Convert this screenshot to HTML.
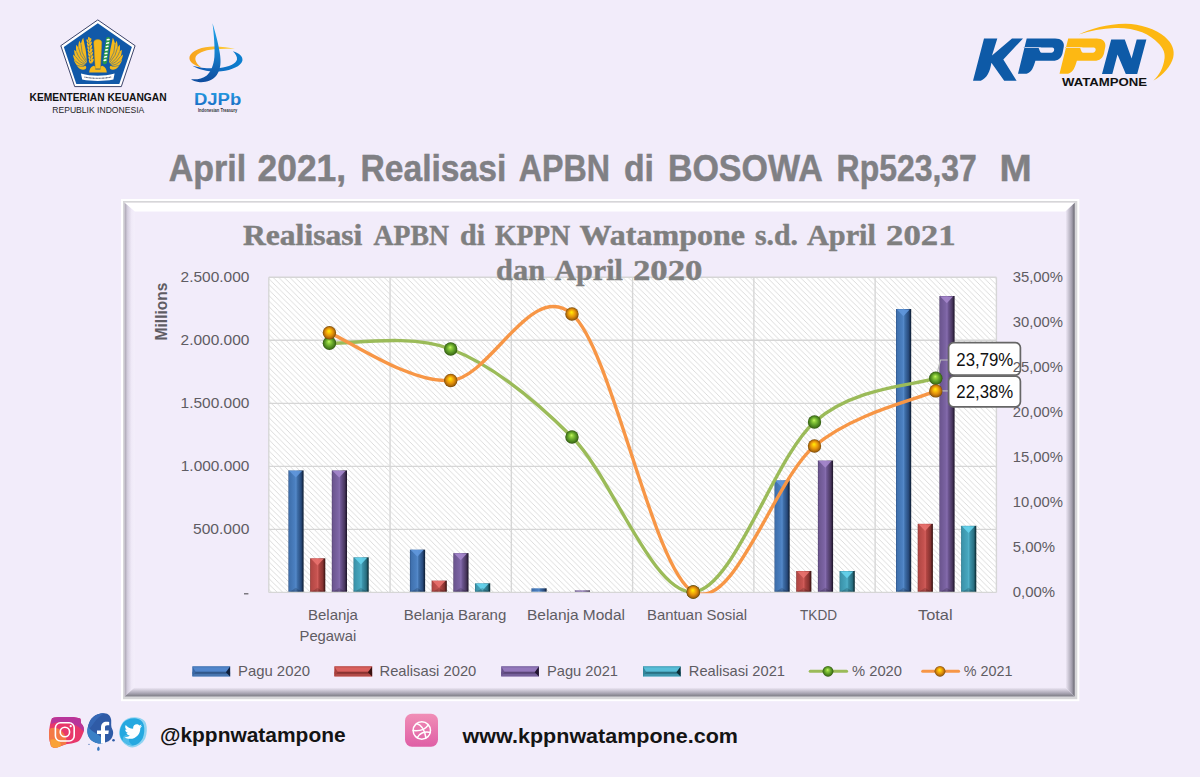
<!DOCTYPE html>
<html lang="id">
<head>
<meta charset="utf-8">
<title>Realisasi APBN di BOSOWA - KPPN Watampone</title>
<style>
html,body{margin:0;padding:0;background:#f2ecfa;}
body{width:1200px;height:777px;overflow:hidden;font-family:"Liberation Sans",sans-serif;}
svg{display:block;}
text{white-space:pre;}
</style>
</head>
<body>
<svg width="1200" height="777" viewBox="0 0 1200 777">

<defs>
<pattern id="hatch" width="5.55" height="5.55" patternUnits="userSpaceOnUse" patternTransform="translate(1.2,0)">
<rect width="5.55" height="5.55" fill="#ffffff"/>
<path d="M-1,-1 L6.55,6.55 M-1,4.55 L1,6.55 M4.55,-1 L6.55,1" stroke="#d6d6d6" stroke-width="0.85"/>
</pattern>
<linearGradient id="gB" x1="0" x2="1" y1="0" y2="0"><stop offset="0" stop-color="#2c5186"/><stop offset="0.07" stop-color="#3f70ad"/><stop offset="0.42" stop-color="#4b80c1"/><stop offset="0.5" stop-color="#5589c9"/><stop offset="0.58" stop-color="#3f70ab"/><stop offset="0.84" stop-color="#27497a"/><stop offset="0.94" stop-color="#152a48"/><stop offset="1" stop-color="#0e1d33"/></linearGradient>
<linearGradient id="gR" x1="0" x2="1" y1="0" y2="0"><stop offset="0" stop-color="#8a3633"/><stop offset="0.07" stop-color="#b24744"/><stop offset="0.42" stop-color="#c65350"/><stop offset="0.5" stop-color="#d25e5b"/><stop offset="0.58" stop-color="#b04542"/><stop offset="0.84" stop-color="#853230"/><stop offset="0.94" stop-color="#4f1c1b"/><stop offset="1" stop-color="#381312"/></linearGradient>
<linearGradient id="gP" x1="0" x2="1" y1="0" y2="0"><stop offset="0" stop-color="#503e6b"/><stop offset="0.07" stop-color="#6c5690"/><stop offset="0.42" stop-color="#7c64a4"/><stop offset="0.5" stop-color="#866dae"/><stop offset="0.58" stop-color="#6e5793"/><stop offset="0.84" stop-color="#49375f"/><stop offset="0.94" stop-color="#2b1f3b"/><stop offset="1" stop-color="#1d1529"/></linearGradient>
<linearGradient id="gT" x1="0" x2="1" y1="0" y2="0"><stop offset="0" stop-color="#2a7488"/><stop offset="0.07" stop-color="#3b93aa"/><stop offset="0.42" stop-color="#47a6be"/><stop offset="0.5" stop-color="#52b2ca"/><stop offset="0.58" stop-color="#3c94ab"/><stop offset="0.84" stop-color="#286e80"/><stop offset="0.94" stop-color="#123c47"/><stop offset="1" stop-color="#0b2a32"/></linearGradient>
<radialGradient id="mG" cx="0.5" cy="0.5" r="0.5" fx="0.46" fy="0.36"><stop offset="0" stop-color="#c9f76c"/><stop offset="0.22" stop-color="#93d33e"/><stop offset="0.58" stop-color="#609f29"/><stop offset="0.85" stop-color="#437619"/><stop offset="1" stop-color="#2f5511"/></radialGradient>
<radialGradient id="mO" cx="0.5" cy="0.5" r="0.5" fx="0.46" fy="0.36"><stop offset="0" stop-color="#fff400"/><stop offset="0.22" stop-color="#fcc80a"/><stop offset="0.58" stop-color="#e2900a"/><stop offset="0.85" stop-color="#aa680a"/><stop offset="1" stop-color="#744606"/></radialGradient>
<linearGradient id="bvL" x1="0" x2="1" y1="0" y2="0"><stop offset="0" stop-color="#a8a3b0"/><stop offset="0.3" stop-color="#d6d0e0"/><stop offset="0.7" stop-color="#f0eaf8"/><stop offset="1" stop-color="#f4effb"/></linearGradient>
<linearGradient id="bvR" x1="1" x2="0" y1="0" y2="0"><stop offset="0" stop-color="#66666e"/><stop offset="0.3" stop-color="#a19dab"/><stop offset="1" stop-color="#f2ecfa"/></linearGradient>
<linearGradient id="bvB" x1="0" x2="0" y1="1" y2="0"><stop offset="0" stop-color="#7c7c84"/><stop offset="0.35" stop-color="#a9a5b3"/><stop offset="1" stop-color="#f2ecfa"/></linearGradient>
<linearGradient id="djb" x1="0" x2="0" y1="0" y2="1"><stop offset="0" stop-color="#22a4e8"/><stop offset="0.45" stop-color="#1585d2"/><stop offset="1" stop-color="#0f4c9e"/></linearGradient>
<linearGradient id="dja" x1="1" x2="0" y1="0" y2="0"><stop offset="0" stop-color="#0c80d0"/><stop offset="1" stop-color="#1258b0"/></linearGradient>
<linearGradient id="djo" x1="0" x2="1" y1="0" y2="0"><stop offset="0" stop-color="#f7a21b"/><stop offset="1" stop-color="#ffd23c"/></linearGradient>
<linearGradient id="djt" x1="0" x2="0" y1="0" y2="1"><stop offset="0" stop-color="#27a0e4"/><stop offset="1" stop-color="#1668c1"/></linearGradient>
<linearGradient id="igG" x1="0" x2="1" y1="1" y2="0"><stop offset="0" stop-color="#f9a23a"/><stop offset="0.45" stop-color="#e8336f"/><stop offset="1" stop-color="#b32fa8"/></linearGradient>
<linearGradient id="drb" x1="0" x2="0" y1="0" y2="1"><stop offset="0" stop-color="#f08eb6"/><stop offset="1" stop-color="#df5ea5"/></linearGradient>
<clipPath id="plotclip"><rect x="268.8" y="237.3" width="727.5999999999999" height="355.9"/></clipPath>
</defs>

<rect width="1200" height="777" fill="#f2ecfa"/>
<rect x="121" y="199" width="958.3" height="502.20000000000005" fill="#ffffff"/>
<rect x="123" y="201" width="954.3" height="498.20000000000005" fill="#d6d6d8"/>
<rect x="124.6" y="202.8" width="950.1" height="493.6000000000001" fill="#f2ecfa"/>
<polygon points="124.6,202.8 1074.7,202.8 1065.5,211.60000000000002 134.6,211.60000000000002" fill="#ffffff"/>
<polygon points="124.6,202.8 134.6,211.60000000000002 134.6,687.4000000000001 124.6,696.4000000000001" fill="url(#bvL)"/>
<polygon points="1074.7,202.8 1065.5,211.60000000000002 1065.5,687.4000000000001 1074.7,696.4000000000001" fill="url(#bvR)"/>
<polygon points="124.6,696.4000000000001 134.6,687.4000000000001 1065.5,687.4000000000001 1074.7,696.4000000000001" fill="url(#bvB)"/>
<text x="168.75" y="180.8" font-family="Liberation Sans, sans-serif" font-size="37.6" font-weight="bold" fill="#808084" textLength="77.43" lengthAdjust="spacingAndGlyphs" stroke="#808084" stroke-width="0.5">April</text>
<text x="257.50" y="180.8" font-family="Liberation Sans, sans-serif" font-size="37.6" font-weight="bold" fill="#808084" textLength="88.66" lengthAdjust="spacingAndGlyphs" stroke="#808084" stroke-width="0.5">2021,</text>
<text x="360.50" y="180.8" font-family="Liberation Sans, sans-serif" font-size="37.6" font-weight="bold" fill="#808084" textLength="145.80" lengthAdjust="spacingAndGlyphs" stroke="#808084" stroke-width="0.5">Realisasi</text>
<text x="518.75" y="180.8" font-family="Liberation Sans, sans-serif" font-size="37.6" font-weight="bold" fill="#808084" textLength="91.20" lengthAdjust="spacingAndGlyphs" stroke="#808084" stroke-width="0.5">APBN</text>
<text x="623.90" y="180.8" font-family="Liberation Sans, sans-serif" font-size="37.6" font-weight="bold" fill="#808084" textLength="30.06" lengthAdjust="spacingAndGlyphs" stroke="#808084" stroke-width="0.5">di</text>
<text x="667.90" y="180.8" font-family="Liberation Sans, sans-serif" font-size="37.6" font-weight="bold" fill="#808084" textLength="154.82" lengthAdjust="spacingAndGlyphs" stroke="#808084" stroke-width="0.5">BOSOWA</text>
<text x="836.60" y="180.8" font-family="Liberation Sans, sans-serif" font-size="37.6" font-weight="bold" fill="#808084" textLength="140.15" lengthAdjust="spacingAndGlyphs" stroke="#808084" stroke-width="0.5">Rp523,37</text>
<text x="999.40" y="180.8" font-family="Liberation Sans, sans-serif" font-size="37.6" font-weight="bold" fill="#808084" textLength="32.22" lengthAdjust="spacingAndGlyphs" stroke="#808084" stroke-width="0.5">M</text>
<rect x="268.8" y="277.3" width="727.5999999999999" height="315.09999999999997" fill="url(#hatch)"/>
<line x1="268.8" x2="996.4" y1="277.30" y2="277.30" stroke="#d6d6d6" stroke-width="1.4"/>
<line x1="268.8" x2="996.4" y1="340.32" y2="340.32" stroke="#d6d6d6" stroke-width="1.4"/>
<line x1="268.8" x2="996.4" y1="403.34" y2="403.34" stroke="#d6d6d6" stroke-width="1.4"/>
<line x1="268.8" x2="996.4" y1="466.36" y2="466.36" stroke="#d6d6d6" stroke-width="1.4"/>
<line x1="268.8" x2="996.4" y1="529.38" y2="529.38" stroke="#d6d6d6" stroke-width="1.4"/>
<line x1="268.8" x2="996.4" y1="592.40" y2="592.40" stroke="#d6d6d6" stroke-width="1.4"/>
<line x1="268.80" x2="268.80" y1="277.3" y2="592.4" stroke="#d6d6d6" stroke-width="1.4"/>
<line x1="390.07" x2="390.07" y1="277.3" y2="592.4" stroke="#d6d6d6" stroke-width="1.4"/>
<line x1="511.33" x2="511.33" y1="277.3" y2="592.4" stroke="#d6d6d6" stroke-width="1.4"/>
<line x1="632.60" x2="632.60" y1="277.3" y2="592.4" stroke="#d6d6d6" stroke-width="1.4"/>
<line x1="753.87" x2="753.87" y1="277.3" y2="592.4" stroke="#d6d6d6" stroke-width="1.4"/>
<line x1="875.13" x2="875.13" y1="277.3" y2="592.4" stroke="#d6d6d6" stroke-width="1.4"/>
<line x1="996.40" x2="996.40" y1="277.3" y2="592.4" stroke="#d6d6d6" stroke-width="1.4"/>
<rect x="288.40" y="470.40" width="15.2" height="121.30" fill="url(#gB)"/>
<polygon points="289.30,470.90 302.00,470.90 295.80,477.60" fill="#6097dc" opacity="0.9"/>
<polygon points="289.90,591.70 301.60,591.70 295.80,587.70" fill="#000000" opacity="0.16"/>
<rect x="288.40" y="590.70" width="15.2" height="1.0" fill="#000000" opacity="0.18"/>
<rect x="310.10" y="558.30" width="15.2" height="33.40" fill="url(#gR)"/>
<polygon points="311.00,558.80 323.70,558.80 317.50,565.50" fill="#e8716e" opacity="0.9"/>
<polygon points="311.60,591.70 323.30,591.70 317.50,587.70" fill="#000000" opacity="0.16"/>
<rect x="310.10" y="590.70" width="15.2" height="1.0" fill="#000000" opacity="0.18"/>
<rect x="331.80" y="470.40" width="15.2" height="121.30" fill="url(#gP)"/>
<polygon points="332.70,470.90 345.40,470.90 339.20,477.60" fill="#a587cc" opacity="0.9"/>
<polygon points="333.30,591.70 345.00,591.70 339.20,587.70" fill="#000000" opacity="0.16"/>
<rect x="331.80" y="590.70" width="15.2" height="1.0" fill="#000000" opacity="0.18"/>
<rect x="353.50" y="557.30" width="15.2" height="34.40" fill="url(#gT)"/>
<polygon points="354.40,557.80 367.10,557.80 360.90,564.50" fill="#66d3ec" opacity="0.9"/>
<polygon points="355.00,591.70 366.70,591.70 360.90,587.70" fill="#000000" opacity="0.16"/>
<rect x="353.50" y="590.70" width="15.2" height="1.0" fill="#000000" opacity="0.18"/>
<rect x="409.92" y="549.60" width="15.2" height="42.10" fill="url(#gB)"/>
<polygon points="410.82,550.10 423.52,550.10 417.32,556.80" fill="#6097dc" opacity="0.9"/>
<polygon points="411.42,591.70 423.12,591.70 417.32,587.70" fill="#000000" opacity="0.16"/>
<rect x="409.92" y="590.70" width="15.2" height="1.0" fill="#000000" opacity="0.18"/>
<rect x="431.62" y="580.60" width="15.2" height="11.10" fill="url(#gR)"/>
<polygon points="432.52,581.10 445.22,581.10 439.02,587.80" fill="#e8716e" opacity="0.9"/>
<polygon points="433.12,591.70 444.82,591.70 439.02,587.70" fill="#000000" opacity="0.16"/>
<rect x="431.62" y="590.70" width="15.2" height="1.0" fill="#000000" opacity="0.18"/>
<rect x="453.32" y="553.10" width="15.2" height="38.60" fill="url(#gP)"/>
<polygon points="454.22,553.60 466.92,553.60 460.72,560.30" fill="#a587cc" opacity="0.9"/>
<polygon points="454.82,591.70 466.52,591.70 460.72,587.70" fill="#000000" opacity="0.16"/>
<rect x="453.32" y="590.70" width="15.2" height="1.0" fill="#000000" opacity="0.18"/>
<rect x="475.02" y="583.30" width="15.2" height="8.40" fill="url(#gT)"/>
<polygon points="475.92,583.80 488.62,583.80 482.42,590.50" fill="#66d3ec" opacity="0.9"/>
<polygon points="476.52,591.70 488.22,591.70 482.42,587.70" fill="#000000" opacity="0.16"/>
<rect x="475.02" y="590.70" width="15.2" height="1.0" fill="#000000" opacity="0.18"/>
<rect x="531.44" y="588.30" width="15.2" height="3.40" fill="url(#gB)"/>
<rect x="574.84" y="590.40" width="15.2" height="1.30" fill="url(#gP)"/>
<rect x="774.48" y="480.30" width="15.2" height="111.40" fill="url(#gB)"/>
<polygon points="775.38,480.80 788.08,480.80 781.88,487.50" fill="#6097dc" opacity="0.9"/>
<polygon points="775.98,591.70 787.68,591.70 781.88,587.70" fill="#000000" opacity="0.16"/>
<rect x="774.48" y="590.70" width="15.2" height="1.0" fill="#000000" opacity="0.18"/>
<rect x="796.18" y="571.00" width="15.2" height="20.70" fill="url(#gR)"/>
<polygon points="797.08,571.50 809.78,571.50 803.58,578.20" fill="#e8716e" opacity="0.9"/>
<polygon points="797.68,591.70 809.38,591.70 803.58,587.70" fill="#000000" opacity="0.16"/>
<rect x="796.18" y="590.70" width="15.2" height="1.0" fill="#000000" opacity="0.18"/>
<rect x="817.88" y="460.50" width="15.2" height="131.20" fill="url(#gP)"/>
<polygon points="818.78,461.00 831.48,461.00 825.28,467.70" fill="#a587cc" opacity="0.9"/>
<polygon points="819.38,591.70 831.08,591.70 825.28,587.70" fill="#000000" opacity="0.16"/>
<rect x="817.88" y="590.70" width="15.2" height="1.0" fill="#000000" opacity="0.18"/>
<rect x="839.58" y="571.00" width="15.2" height="20.70" fill="url(#gT)"/>
<polygon points="840.48,571.50 853.18,571.50 846.98,578.20" fill="#66d3ec" opacity="0.9"/>
<polygon points="841.08,591.70 852.78,591.70 846.98,587.70" fill="#000000" opacity="0.16"/>
<rect x="839.58" y="590.70" width="15.2" height="1.0" fill="#000000" opacity="0.18"/>
<rect x="896.00" y="309.00" width="15.2" height="282.70" fill="url(#gB)"/>
<polygon points="896.90,309.50 909.60,309.50 903.40,316.20" fill="#6097dc" opacity="0.9"/>
<polygon points="897.50,591.70 909.20,591.70 903.40,587.70" fill="#000000" opacity="0.16"/>
<rect x="896.00" y="590.70" width="15.2" height="1.0" fill="#000000" opacity="0.18"/>
<rect x="917.70" y="523.80" width="15.2" height="67.90" fill="url(#gR)"/>
<polygon points="918.60,524.30 931.30,524.30 925.10,531.00" fill="#e8716e" opacity="0.9"/>
<polygon points="919.20,591.70 930.90,591.70 925.10,587.70" fill="#000000" opacity="0.16"/>
<rect x="917.70" y="590.70" width="15.2" height="1.0" fill="#000000" opacity="0.18"/>
<rect x="939.40" y="296.00" width="15.2" height="295.70" fill="url(#gP)"/>
<polygon points="940.30,296.50 953.00,296.50 946.80,303.20" fill="#a587cc" opacity="0.9"/>
<polygon points="940.90,591.70 952.60,591.70 946.80,587.70" fill="#000000" opacity="0.16"/>
<rect x="939.40" y="590.70" width="15.2" height="1.0" fill="#000000" opacity="0.18"/>
<rect x="961.10" y="525.80" width="15.2" height="65.90" fill="url(#gT)"/>
<polygon points="962.00,526.30 974.70,526.30 968.50,533.00" fill="#66d3ec" opacity="0.9"/>
<polygon points="962.60,591.70 974.30,591.70 968.50,587.70" fill="#000000" opacity="0.16"/>
<rect x="961.10" y="590.70" width="15.2" height="1.0" fill="#000000" opacity="0.18"/>
<g clip-path="url(#plotclip)" fill="none" stroke-width="3.4" stroke-linecap="round">
<path d="M329.43,343.30 C349.64,344.25 410.28,333.38 450.70,349.00 C491.12,364.62 531.54,396.50 571.97,437.00 C612.39,477.50 652.81,594.50 693.23,592.00 C733.66,589.50 774.08,457.63 814.50,422.00 C854.92,386.37 915.56,385.52 935.77,378.22" stroke="#9bbb59"/>
<path d="M329.43,332.80 C349.64,340.75 410.28,383.63 450.70,380.50 C491.12,377.37 531.54,278.75 571.97,314.00 C612.39,349.25 652.81,570.00 693.23,592.00 C733.66,614.00 774.08,479.51 814.50,446.00 C854.92,412.49 915.56,400.10 935.77,390.92" stroke="#f79646"/>
</g>
<text x="243.00" y="244.7" font-family="Liberation Serif, serif" font-size="29.6" font-weight="bold" fill="#7f7f7f" textLength="119.33" lengthAdjust="spacingAndGlyphs" stroke="#7f7f7f" stroke-width="0.45">Realisasi</text>
<text x="373.60" y="244.7" font-family="Liberation Serif, serif" font-size="29.6" font-weight="bold" fill="#7f7f7f" textLength="75.46" lengthAdjust="spacingAndGlyphs" stroke="#7f7f7f" stroke-width="0.45">APBN</text>
<text x="460.00" y="244.7" font-family="Liberation Serif, serif" font-size="29.6" font-weight="bold" fill="#7f7f7f" textLength="24.97" lengthAdjust="spacingAndGlyphs" stroke="#7f7f7f" stroke-width="0.45">di</text>
<text x="495.00" y="244.7" font-family="Liberation Serif, serif" font-size="29.6" font-weight="bold" fill="#7f7f7f" textLength="75.05" lengthAdjust="spacingAndGlyphs" stroke="#7f7f7f" stroke-width="0.45">KPPN</text>
<text x="579.60" y="244.7" font-family="Liberation Serif, serif" font-size="29.6" font-weight="bold" fill="#7f7f7f" textLength="165.47" lengthAdjust="spacingAndGlyphs" stroke="#7f7f7f" stroke-width="0.45">Watampone</text>
<text x="755.00" y="244.7" font-family="Liberation Serif, serif" font-size="29.6" font-weight="bold" fill="#7f7f7f" textLength="43.01" lengthAdjust="spacingAndGlyphs" stroke="#7f7f7f" stroke-width="0.45">s.d.</text>
<text x="807.00" y="244.7" font-family="Liberation Serif, serif" font-size="29.6" font-weight="bold" fill="#7f7f7f" textLength="68.93" lengthAdjust="spacingAndGlyphs" stroke="#7f7f7f" stroke-width="0.45">April</text>
<text x="886.00" y="244.7" font-family="Liberation Serif, serif" font-size="29.6" font-weight="bold" fill="#7f7f7f" textLength="69.50" lengthAdjust="spacingAndGlyphs" stroke="#7f7f7f" stroke-width="0.45">2021</text>
<text x="496.00" y="280.2" font-family="Liberation Serif, serif" font-size="29.6" font-weight="bold" fill="#7f7f7f" textLength="49.07" lengthAdjust="spacingAndGlyphs" stroke="#7f7f7f" stroke-width="0.45">dan</text>
<text x="554.40" y="280.2" font-family="Liberation Serif, serif" font-size="29.6" font-weight="bold" fill="#7f7f7f" textLength="68.53" lengthAdjust="spacingAndGlyphs" stroke="#7f7f7f" stroke-width="0.45">April</text>
<text x="633.00" y="280.2" font-family="Liberation Serif, serif" font-size="29.6" font-weight="bold" fill="#7f7f7f" textLength="69.40" lengthAdjust="spacingAndGlyphs" stroke="#7f7f7f" stroke-width="0.45">2020</text>
<polyline points="935.8,378.2 940.5,360 948.5,360" fill="none" stroke="#bdbdbd" stroke-width="1.2"/>
<line x1="935.8" y1="390.9" x2="948.5" y2="390.9" stroke="#bdbdbd" stroke-width="1.2"/>
<circle cx="329.43" cy="343.30" r="6.7" fill="url(#mG)"/>
<circle cx="450.70" cy="349.00" r="6.7" fill="url(#mG)"/>
<circle cx="571.97" cy="437.00" r="6.7" fill="url(#mG)"/>
<circle cx="693.23" cy="592.00" r="6.7" fill="url(#mG)"/>
<circle cx="814.50" cy="422.00" r="6.7" fill="url(#mG)"/>
<circle cx="935.77" cy="378.22" r="6.7" fill="url(#mG)"/>
<circle cx="329.43" cy="332.80" r="6.7" fill="url(#mO)"/>
<circle cx="450.70" cy="380.50" r="6.7" fill="url(#mO)"/>
<circle cx="571.97" cy="314.00" r="6.7" fill="url(#mO)"/>
<circle cx="693.23" cy="592.00" r="6.7" fill="url(#mO)"/>
<circle cx="814.50" cy="446.00" r="6.7" fill="url(#mO)"/>
<circle cx="935.77" cy="390.92" r="6.7" fill="url(#mO)"/>
<rect x="948.6" y="342.6" width="71.8" height="32.4" rx="5" ry="5" fill="#ffffff" stroke="#666666" stroke-width="1.7"/>
<rect x="948.6" y="376.2" width="71.8" height="30.6" rx="5" ry="5" fill="#ffffff" stroke="#666666" stroke-width="1.7"/>
<text x="956.30" y="365.6" font-family="Liberation Sans, sans-serif" font-size="18.8" fill="#111111" textLength="56.93" lengthAdjust="spacingAndGlyphs">23,79%</text>
<text x="956.30" y="397.8" font-family="Liberation Sans, sans-serif" font-size="18.8" fill="#111111" textLength="56.93" lengthAdjust="spacingAndGlyphs">22,38%</text>
<text x="180.60" y="281.9" font-family="Liberation Sans, sans-serif" font-size="14.5" fill="#5f5c63" textLength="68.78" lengthAdjust="spacingAndGlyphs">2.500.000</text>
<text x="180.60" y="344.9" font-family="Liberation Sans, sans-serif" font-size="14.5" fill="#5f5c63" textLength="68.78" lengthAdjust="spacingAndGlyphs">2.000.000</text>
<text x="180.60" y="407.9" font-family="Liberation Sans, sans-serif" font-size="14.5" fill="#5f5c63" textLength="68.78" lengthAdjust="spacingAndGlyphs">1.500.000</text>
<text x="180.80" y="471.0" font-family="Liberation Sans, sans-serif" font-size="14.5" fill="#5f5c63" textLength="68.58" lengthAdjust="spacingAndGlyphs">1.000.000</text>
<text x="193.00" y="534.0" font-family="Liberation Sans, sans-serif" font-size="14.5" fill="#5f5c63" textLength="56.40" lengthAdjust="spacingAndGlyphs">500.000</text>
<rect x="244.0" y="593.2" width="4.4" height="1.2" fill="#5f5c63"/>
<text x="1012.70" y="282.3" font-family="Liberation Sans, sans-serif" font-size="14.5" fill="#5f5c63" textLength="50.32" lengthAdjust="spacingAndGlyphs">35,00%</text>
<text x="1012.70" y="327.3" font-family="Liberation Sans, sans-serif" font-size="14.5" fill="#5f5c63" textLength="50.32" lengthAdjust="spacingAndGlyphs">30,00%</text>
<text x="1012.70" y="372.3" font-family="Liberation Sans, sans-serif" font-size="14.5" fill="#5f5c63" textLength="50.32" lengthAdjust="spacingAndGlyphs">25,00%</text>
<text x="1012.70" y="417.3" font-family="Liberation Sans, sans-serif" font-size="14.5" fill="#5f5c63" textLength="50.32" lengthAdjust="spacingAndGlyphs">20,00%</text>
<text x="1012.70" y="462.4" font-family="Liberation Sans, sans-serif" font-size="14.5" fill="#5f5c63" textLength="50.32" lengthAdjust="spacingAndGlyphs">15,00%</text>
<text x="1012.70" y="507.4" font-family="Liberation Sans, sans-serif" font-size="14.5" fill="#5f5c63" textLength="50.32" lengthAdjust="spacingAndGlyphs">10,00%</text>
<text x="1012.70" y="552.4" font-family="Liberation Sans, sans-serif" font-size="14.5" fill="#5f5c63" textLength="42.31" lengthAdjust="spacingAndGlyphs">5,00%</text>
<text x="1012.70" y="597.4" font-family="Liberation Sans, sans-serif" font-size="14.5" fill="#5f5c63" textLength="42.31" lengthAdjust="spacingAndGlyphs">0,00%</text>
<g transform="translate(166.6,340.4) rotate(-90)"><text x="0.00" y="0" font-family="Liberation Sans, sans-serif" font-size="15.6" font-weight="bold" fill="#5f5c63" textLength="57.73" lengthAdjust="spacingAndGlyphs">Millions</text></g>
<text x="308.00" y="620.0" font-family="Liberation Sans, sans-serif" font-size="14.5" fill="#5f5c63" textLength="49.94" lengthAdjust="spacingAndGlyphs">Belanja</text>
<text x="299.50" y="640.5" font-family="Liberation Sans, sans-serif" font-size="14.5" fill="#5f5c63" textLength="56.82" lengthAdjust="spacingAndGlyphs">Pegawai</text>
<text x="403.80" y="620.0" font-family="Liberation Sans, sans-serif" font-size="14.5" fill="#5f5c63" textLength="102.48" lengthAdjust="spacingAndGlyphs">Belanja Barang</text>
<text x="527.00" y="620.0" font-family="Liberation Sans, sans-serif" font-size="14.5" fill="#5f5c63" textLength="97.96" lengthAdjust="spacingAndGlyphs">Belanja Modal</text>
<text x="647.00" y="620.0" font-family="Liberation Sans, sans-serif" font-size="14.5" fill="#5f5c63" textLength="100.03" lengthAdjust="spacingAndGlyphs">Bantuan Sosial</text>
<text x="800.00" y="620.0" font-family="Liberation Sans, sans-serif" font-size="14.5" fill="#5f5c63" textLength="37.03" lengthAdjust="spacingAndGlyphs">TKDD</text>
<text x="918.00" y="620.0" font-family="Liberation Sans, sans-serif" font-size="14.5" fill="#5f5c63" textLength="34.54" lengthAdjust="spacingAndGlyphs">Total</text>
<defs>
<linearGradient id="gBv" x1="0" x2="0" y1="0" y2="1"><stop offset="0" stop-color="#2c4d75"/><stop offset="0.45" stop-color="#5b8dc9"/><stop offset="1" stop-color="#1e3654"/></linearGradient>
<linearGradient id="gRv" x1="0" x2="0" y1="0" y2="1"><stop offset="0" stop-color="#772c2a"/><stop offset="0.45" stop-color="#cf5b58"/><stop offset="1" stop-color="#561f1e"/></linearGradient>
<linearGradient id="gPv" x1="0" x2="0" y1="0" y2="1"><stop offset="0" stop-color="#4d3b62"/><stop offset="0.45" stop-color="#8c70b0"/><stop offset="1" stop-color="#372a47"/></linearGradient>
<linearGradient id="gTv" x1="0" x2="0" y1="0" y2="1"><stop offset="0" stop-color="#276a7c"/><stop offset="0.45" stop-color="#5bbdd6"/><stop offset="1" stop-color="#1b4a57"/></linearGradient>
</defs>
<rect x="192.5" y="666.4" width="37.6" height="10.0" fill="#5186cc"/>
<rect x="192.5" y="666.4" width="37.6" height="0.9" fill="#4876b0"/>
<rect x="192.5" y="671.70" width="37.6" height="2.3" fill="#31588a"/>
<rect x="192.5" y="673.80" width="37.6" height="2.60" fill="#4876b0"/>
<polygon points="192.5,666.4 195.70,672.00 192.5,676.4" fill="#3968a6"/>
<polygon points="230.10,666.4 225.90,672.20 230.10,676.4" fill="#0f1f3a"/>
<text x="238.00" y="676.2" font-family="Liberation Sans, sans-serif" font-size="14.5" fill="#5f5c63" textLength="71.97" lengthAdjust="spacingAndGlyphs">Pagu 2020</text>
<rect x="334.5" y="666.4" width="37.6" height="10.0" fill="#da615e"/>
<rect x="334.5" y="666.4" width="37.6" height="0.9" fill="#b24b48"/>
<rect x="334.5" y="671.70" width="37.6" height="2.3" fill="#8a3432"/>
<rect x="334.5" y="673.80" width="37.6" height="2.60" fill="#b24b48"/>
<polygon points="334.5,666.4 337.70,672.00 334.5,676.4" fill="#a8403d"/>
<polygon points="372.10,666.4 367.90,672.20 372.10,676.4" fill="#3a1211"/>
<text x="379.50" y="676.2" font-family="Liberation Sans, sans-serif" font-size="14.5" fill="#5f5c63" textLength="96.80" lengthAdjust="spacingAndGlyphs">Realisasi 2020</text>
<rect x="501.3" y="666.4" width="37.6" height="10.0" fill="#9478bc"/>
<rect x="501.3" y="666.4" width="37.6" height="0.9" fill="#75609a"/>
<rect x="501.3" y="671.70" width="37.6" height="2.3" fill="#5a4578"/>
<rect x="501.3" y="673.80" width="37.6" height="2.60" fill="#75609a"/>
<polygon points="501.3,666.4 504.50,672.00 501.3,676.4" fill="#68528c"/>
<polygon points="538.90,666.4 534.70,672.20 538.90,676.4" fill="#21162f"/>
<text x="547.00" y="676.2" font-family="Liberation Sans, sans-serif" font-size="14.5" fill="#5f5c63" textLength="70.97" lengthAdjust="spacingAndGlyphs">Pagu 2021</text>
<rect x="643.0" y="666.4" width="37.6" height="10.0" fill="#58bed8"/>
<rect x="643.0" y="666.4" width="37.6" height="0.9" fill="#3f97ae"/>
<rect x="643.0" y="671.70" width="37.6" height="2.3" fill="#2a7183"/>
<rect x="643.0" y="673.80" width="37.6" height="2.60" fill="#3f97ae"/>
<polygon points="643.0,666.4 646.20,672.00 643.0,676.4" fill="#33879c"/>
<polygon points="680.60,666.4 676.40,672.20 680.60,676.4" fill="#0c2c35"/>
<text x="688.80" y="676.2" font-family="Liberation Sans, sans-serif" font-size="14.5" fill="#5f5c63" textLength="96.20" lengthAdjust="spacingAndGlyphs">Realisasi 2021</text>
<line x1="810.2" x2="846.6" y1="671.3" y2="671.3" stroke="#9bbb59" stroke-width="3.0" stroke-linecap="round"/>
<circle cx="828" cy="671.3" r="5.4" fill="url(#mG)"/>
<text x="852.00" y="676.2" font-family="Liberation Sans, sans-serif" font-size="14.5" fill="#5f5c63" textLength="50.02" lengthAdjust="spacingAndGlyphs">% 2020</text>
<line x1="922.7" x2="958.6" y1="671.3" y2="671.3" stroke="#f79646" stroke-width="3.0" stroke-linecap="round"/>
<circle cx="940" cy="671.3" r="5.4" fill="url(#mO)"/>
<text x="963.80" y="676.2" font-family="Liberation Sans, sans-serif" font-size="14.5" fill="#5f5c63" textLength="48.72" lengthAdjust="spacingAndGlyphs">% 2021</text>
<g id="kemenkeu">
<polygon points="97.8,19.9 135.1,45.7 121.3,86.6 74.7,86.6 60.8,45.7" fill="#ffffff" stroke="#1b2550" stroke-width="0.85" stroke-linejoin="miter"/>
<polygon points="97.8,23.3 131.9,46.9 119.3,83.9 76.3,83.9 63.8,46.9" fill="#1159a8"/>
<g fill="#f6b91b">
<path d="M84.90,46.00 L83.20,37.80 C82.00,40.00,81.20,42.00,81.00,44.00 L79.30,40.80 C78.60,43.00,78.20,45.40,78.40,47.40 L76.30,44.70 C75.80,47.20,75.90,49.60,76.40,51.60 L74.30,49.70 C74.10,52.00,74.50,54.40,75.30,56.20 L73.00,54.60 C73.20,57.20,74.00,59.40,75.20,61.00 L73.80,59.60 C74.40,62.00,75.60,64.00,77.20,65.40 L76.30,64.50 C77.60,67.60,80.00,69.60,82.80,69.80 C85.00,70.00,86.60,68.60,86.20,66.80 C85.90,65.60,84.40,65.30,83.70,66.20 C84.60,64.80,86.20,63.60,86.80,62.00 C86.60,56.00,85.90,50.00,84.90,46.00 Z"/>
<path d="M111.10,46.00 L112.80,37.80 C114.00,40.00,114.80,42.00,115.00,44.00 L116.70,40.80 C117.40,43.00,117.80,45.40,117.60,47.40 L119.70,44.70 C120.20,47.20,120.10,49.60,119.60,51.60 L121.70,49.70 C121.90,52.00,121.50,54.40,120.70,56.20 L123.00,54.60 C122.80,57.20,122.00,59.40,120.80,61.00 L122.20,59.60 C121.60,62.00,120.40,64.00,118.80,65.40 L119.70,64.50 C118.40,67.60,116.00,69.60,113.20,69.80 C111.00,70.00,109.40,68.60,109.80,66.80 C110.10,65.60,111.60,65.30,112.30,66.20 C111.40,64.80,109.80,63.60,109.20,62.00 C109.40,56.00,110.10,50.00,111.10,46.00 Z"/>
<path d="M93.8,42.6 C93.8,40.6 95.4,39.6 97.8,39.6 C100.2,39.6 101.7,40.6 101.7,42.6 L100.4,68.6 L95.3,68.6 Z" stroke="#cf9a12" stroke-width="0.5"/>
<path d="M89.2,72.4 C89.4,69.4 90.6,66.6 93.6,65.8 L95.0,66.4 L95.4,69.4 L100.4,69.4 L100.8,66.4 L102.2,65.8 C105.2,66.6 106.6,69.4 106.8,72.4 Z"/>
</g>
<path d="M86.20,60.50 Q80.60,52.00 81.00,44.00 M86.20,62.50 Q79.60,55.50 78.40,47.40 M86.00,64.00 Q78.80,59.00 76.40,51.60 M85.60,65.00 Q78.60,62.00 75.30,56.20 M85.00,65.80 Q79.00,64.60 75.20,61.00 M84.20,66.40 Q80.00,66.60 77.20,65.40 M109.80,60.50 Q115.40,52.00 115.00,44.00 M109.80,62.50 Q116.40,55.50 117.60,47.40 M110.00,64.00 Q117.20,59.00 119.60,51.60 M110.40,65.00 Q117.40,62.00 120.70,56.20 M111.00,65.80 Q117.00,64.60 120.80,61.00 M111.80,66.40 Q116.00,66.60 118.80,65.40" fill="none" stroke="#1159a8" stroke-width="0.5"/>
<g fill="#f6b91b">
<path d="M88.7,38.0 L89.5,38.0 L92.3,63.6 L91.3,63.6 Z"/>
<ellipse cx="87.65" cy="41.20" rx="0.95" ry="2.0" transform="rotate(-24 87.65 41.20)"/>
<ellipse cx="90.25" cy="40.00" rx="0.95" ry="2.0" transform="rotate(24 90.25 40.00)"/>
<ellipse cx="88.03" cy="44.62" rx="0.95" ry="2.0" transform="rotate(-24 88.03 44.62)"/>
<ellipse cx="90.63" cy="43.42" rx="0.95" ry="2.0" transform="rotate(24 90.63 43.42)"/>
<ellipse cx="88.42" cy="48.03" rx="0.95" ry="2.0" transform="rotate(-24 88.42 48.03)"/>
<ellipse cx="91.02" cy="46.83" rx="0.95" ry="2.0" transform="rotate(24 91.02 46.83)"/>
<ellipse cx="88.80" cy="51.45" rx="0.95" ry="2.0" transform="rotate(-24 88.80 51.45)"/>
<ellipse cx="91.40" cy="50.25" rx="0.95" ry="2.0" transform="rotate(24 91.40 50.25)"/>
<ellipse cx="89.18" cy="54.87" rx="0.95" ry="2.0" transform="rotate(-24 89.18 54.87)"/>
<ellipse cx="91.78" cy="53.67" rx="0.95" ry="2.0" transform="rotate(24 91.78 53.67)"/>
<ellipse cx="89.57" cy="58.28" rx="0.95" ry="2.0" transform="rotate(-24 89.57 58.28)"/>
<ellipse cx="92.17" cy="57.08" rx="0.95" ry="2.0" transform="rotate(24 92.17 57.08)"/>
<ellipse cx="89.95" cy="61.70" rx="0.95" ry="2.0" transform="rotate(-24 89.95 61.70)"/>
<ellipse cx="92.55" cy="60.50" rx="0.95" ry="2.0" transform="rotate(24 92.55 60.50)"/>
<ellipse cx="88.9" cy="38.6" rx="0.9" ry="1.9"/>
</g>
<line x1="108.2" y1="39.2" x2="104.8" y2="62.0" stroke="#2f9b49" stroke-width="4.3" stroke-linecap="round"/>
<ellipse cx="108.15" cy="39.60" rx="1.75" ry="0.85" fill="#ffffff" transform="rotate(-12 108.15 39.60)"/>
<ellipse cx="107.63" cy="43.03" rx="1.75" ry="0.85" fill="#ffffff" transform="rotate(-12 107.63 43.03)"/>
<ellipse cx="107.12" cy="46.47" rx="1.75" ry="0.85" fill="#ffffff" transform="rotate(-12 107.12 46.47)"/>
<ellipse cx="106.60" cy="49.90" rx="1.75" ry="0.85" fill="#ffffff" transform="rotate(-12 106.60 49.90)"/>
<ellipse cx="106.08" cy="53.33" rx="1.75" ry="0.85" fill="#ffffff" transform="rotate(-12 106.08 53.33)"/>
<ellipse cx="105.57" cy="56.77" rx="1.75" ry="0.85" fill="#ffffff" transform="rotate(-12 105.57 56.77)"/>
<ellipse cx="105.05" cy="60.20" rx="1.75" ry="0.85" fill="#ffffff" transform="rotate(-12 105.05 60.20)"/>
<path d="M80.9,73.6 C86.6,75.2 92,75.8 97.8,75.8 C103.6,75.8 109.0,75.2 114.6,73.6 L113.4,79.6 C108.4,80.6 103,81.0 97.8,81.0 C92.6,81.0 87.2,80.6 82.2,79.6 Z" fill="#ffffff"/>
<path d="M84.4,77.0 C89,78.0 93,78.3 97.8,78.3 C102.6,78.3 106.6,78.0 111.2,77.0" fill="none" stroke="#4c566e" stroke-width="1.15" stroke-dasharray="1.0,0.45"/>
</g>

<g id="djpb">
<!-- orange crescent -->
<path d="M201.6,67.6 C193.2,65.6 188.4,61.2 189.6,56.6 C191.4,50.2 203,46.3 214,46.4 C222,46.5 229.6,47.4 235.0,49.0 C228,48.6 221,48.7 214,49.3 C204.2,50.2 196.2,53.6 195.4,58.0 C195.0,61.4 197.6,64.8 201.6,67.6 Z" fill="url(#djo)"/>
<!-- blue orbit arc -->
<path d="M232.8,51.3 C239.6,53.2 243.2,56.8 242.4,60.8 C240.8,66.2 232,70.2 221.4,71.3 C211,72.4 199.6,70.2 192.4,65.8 C200,68 210,68.9 219.6,68.0 C229,67.0 236,63.8 237.0,59.6 C237.4,56.6 235.4,53.6 232.8,51.3 Z" fill="url(#dja)"/>
<!-- vertical swoosh -->
<path d="M212.5,23.2 C215.0,31 218.0,42 219.8,53 C221.2,62 220.8,69 216.8,75 C212.6,80.6 204.6,83.0 198.4,82.0 C195.4,81.4 192.8,80.6 191.0,79.2 C196.4,79.8 202.4,78.8 206.8,75.4 C211.2,71.6 213.6,65 214.4,57 C215.0,48 214.0,35 212.5,23.2 Z" fill="url(#djb)"/>
</g>

<g id="kppn">
<!-- swoosh -->
<path d="M1078.7,34.6 C1090,29 1108,23.6 1125.8,23.7 C1140,23.8 1156,29 1164.8,36.7 C1172,43 1175,50 1173.2,57.5 C1171,66 1163,75.5 1153.5,80.6 C1159,75.5 1163.4,68 1164.6,58 C1165.2,52 1162.5,47.5 1158.3,43.2 C1154,38.8 1149,35.2 1142.1,32.3 C1134,29.2 1124,27.7 1115,28.1 C1102,28.6 1090,31 1078.7,34.6 Z" fill="#fdb813"/>
<!-- K -->
<path d="M984.0,38.5 L997.3,38.5 L992.0,55.5 L1012.0,38.5 L1023.0,38.5 L1003.3,59.6 L1016.6,80.7 L1004.2,80.7 L991.4,62.8 C990.2,71 987,78.6 980.8,80.7 L973.0,80.7 Z" fill="#0e5aa7"/>
<!-- P blue -->
<path d="M1026.7,38.5 L1055.1,38.5 C1061.2,38.5 1064.6,42 1063.8,46.8 L1062.6,53 C1061.6,58 1058,60.8 1053,60.8 L1035.4,60.8 C1033.6,67 1031.6,72.6 1026.6,73.8 L1018.0,73.8 Z M1023.9,47.3 L1040.4,47.3 C1041.2,47.5 1041.8,47.6 1042.8,47.6 L1052.2,47.6 C1055.0,47.6 1055.0,52.7 1051.2,52.7 L1041.6,52.7 C1039.8,52.7 1039.4,49.0 1038.6,47.95 L1023.7,47.95 Z" fill="#0e5aa7" fill-rule="evenodd"/>
<!-- P yellow -->
<path d="M1026.7,38.5 L1055.1,38.5 C1061.2,38.5 1064.6,42 1063.8,46.8 L1062.6,53 C1061.6,58 1058,60.8 1053,60.8 L1035.4,60.8 C1033.6,67 1031.6,72.6 1026.6,73.8 L1018.0,73.8 Z M1023.9,47.3 L1040.4,47.3 C1041.2,47.5 1041.8,47.6 1042.8,47.6 L1052.2,47.6 C1055.0,47.6 1055.0,52.7 1051.2,52.7 L1041.6,52.7 C1039.8,52.7 1039.4,49.0 1038.6,47.95 L1023.7,47.95 Z" fill="#fdb813" fill-rule="evenodd" transform="translate(41.5,0)"/>
<!-- N -->
<path d="M1102.0,74.0 L1111.2,39.4 L1124.8,39.4 L1131.6,58.5 L1136.7,39.4 L1146.4,39.4 L1137.2,74.0 L1125.8,74.0 L1117.5,54.4 L1112.3,74.0 Z" fill="#0e5aa7"/>
</g>

<g id="footer">
<!-- instagram blob -->
<path d="M52.0,718.2 C56,716.6 62,717.0 67,717.0 C72,716.6 77.6,717.2 80.2,718.4 C81.4,720.2 80.4,722.0 81.2,723.6 C83.6,725.6 84.4,729.0 83.8,731.4 C82.6,734.6 81.6,737.6 79.6,740.2 C77.0,743.0 70.6,743.6 66.0,744.2 C62.0,745.2 58.8,747.6 55.0,747.8 C52.4,747.8 50.4,746.4 50.6,744.0 C49.2,740.6 48.8,736.0 49.2,731.6 C49.4,727.0 50.2,722.0 52.0,718.2 Z" fill="#e8376b"/>
<path d="M52.0,718.2 C56,716.6 62,717.0 67,717.0 C72,716.6 77.6,717.2 80.2,718.4 C81.4,720.2 80.4,722.0 81.2,723.6 C83.6,725.6 84.4,729.0 83.8,731.4 C80,727 74,723.6 67,722.4 C61,721.4 55.4,722.2 51.0,724.2 C51.2,722.0 51.4,720.0 52.0,718.2 Z" fill="#b8359a"/>
<path d="M49.4,729.0 C53,726.8 58,727.6 61.6,731.0 C65.6,734.8 67.6,740.0 66.0,744.2 C62.0,745.2 58.8,747.6 55.0,747.8 C52.4,747.8 50.4,746.4 50.6,744.0 C49.2,740.6 48.8,736.0 49.2,731.6 Z" fill="#f47a45"/>
<path d="M50.4,739.8 C53.6,738.2 58.6,739.6 60.6,743.2 C61.2,744.4 61.0,745.6 60.2,746.4 C58.6,747.2 56.8,747.8 55.0,747.8 C52.4,747.8 50.4,746.4 50.6,744.0 C50.4,742.6 50.3,741.2 50.4,739.8 Z" fill="#f9a237"/>
<rect x="55.4" y="722.8" width="18.8" height="18.2" rx="5.0" ry="5.0" fill="none" stroke="#ffffff" stroke-width="1.6"/>
<circle cx="64.9" cy="732.0" r="4.7" fill="none" stroke="#ffffff" stroke-width="1.6"/>
<circle cx="70.7" cy="726.2" r="1.1" fill="#ffffff"/>
<!-- facebook blob -->
<path d="M91.6,718.6 C94.4,714.8 100.4,713.0 104.4,713.2 C108.4,713.4 110.8,716.2 111.2,720.0 C111.4,723.6 110.6,726.6 112.4,729.6 C114.0,732.6 113.0,736.8 110.6,739.6 C108.0,742.4 103.0,743.8 98.6,743.4 C94.6,743.0 91.2,741.0 89.2,737.8 C87.2,734.4 86.8,730.2 88.0,726.4 C88.8,723.4 89.8,721.0 91.6,718.6 Z" fill="#2f5ba6"/>
<path d="M88.0,726.4 C90,729.5 93.4,732.0 97.4,734.2 C101.0,736.0 103.0,739.6 103.0,743.2 C101.6,743.5 100.0,743.5 98.6,743.4 C94.6,743.0 91.2,741.0 89.2,737.8 C87.2,734.4 86.8,730.2 88.0,726.4 Z" fill="#3a80c6"/>
<path d="M91.6,718.6 C94.4,714.8 100.4,713.0 104.4,713.2 C101.0,715.0 97.0,718.4 94.4,722.2 C92.4,725.0 90.8,727.4 89.4,728.4 C88.6,727.8 88.2,727.0 88.0,726.4 C88.8,723.4 89.8,721.0 91.6,718.6 Z" fill="#3668b5"/>
<circle cx="113.5" cy="740.3" r="1.25" fill="#2f5ba6"/>
<path d="M98.5,746.6 C99.6,747.6 100.0,749.0 99.4,750.2 C98.8,751.2 97.6,751.0 97.2,750.0 C96.8,748.8 97.4,747.4 98.5,746.6 Z" fill="#3a78c0"/>
<circle cx="89.0" cy="744.3" r="0.6" fill="#2f5ba6"/>
<path d="M101.0,743.4 L101.0,734.0 L97.0,734.0 L97.0,730.5 L101.0,730.5 L101.0,727.6 C101.0,723.8 103.2,721.8 106.6,721.8 C107.6,721.8 108.6,721.9 109.2,722.0 L109.2,725.2 L107.4,725.2 C105.6,725.2 105.0,726.0 105.0,727.6 L105.0,730.5 L108.8,730.5 L108.3,734.0 L105.0,734.0 L105.0,743.0 C103.8,743.4 102.4,743.5 101.0,743.4 Z" fill="#ffffff"/>
<!-- twitter blob -->
<path d="M123.0,722.0 C125.6,718.6 130.6,716.8 135.4,717.2 C140.0,717.4 144.6,719.4 146.0,723.4 C147.4,727.6 147.0,733.6 145.4,738.0 C143.6,742.4 139.6,745.6 135.0,747.0 C131.4,748.2 127.6,746.6 124.6,744.0 C121.4,741.2 119.0,737.0 119.2,732.6 C119.2,728.8 120.8,725.0 123.0,722.0 Z" fill="#8fd3f1"/>
<path d="M123.4,722.6 C126.0,719.4 130.6,717.8 135.0,718.2 C139.4,718.6 142.8,721.0 143.8,725.0 C144.8,729.2 144.4,734.4 142.6,738.4 C140.8,742.2 137.2,744.8 133.2,745.4 C129.6,745.8 126.0,744.2 123.4,741.6 C120.6,738.8 119.4,735.0 119.8,731.4 C120.0,728.2 121.4,725.2 123.4,722.6 Z" fill="#25a8e0"/>
<path d="M123.4,741.6 C122.0,738.6 123.0,735.8 125.6,735.0 C128.0,734.6 129.6,737.0 129.0,739.6 C128.4,742.0 130.4,744.0 133.2,745.4 C129.6,745.8 126.0,744.2 123.4,741.6 Z" fill="#4dbcea"/>
<path d="M142.1,726.0 C141.5,726.3 140.8,726.5 140.1,726.6 C140.8,726.1 141.4,725.4 141.7,724.6 C141.0,725.0 140.2,725.3 139.4,725.5 C138.7,724.8 137.8,724.3 136.7,724.3 C134.7,724.3 133.1,725.9 133.1,727.9 C133.1,728.2 133.1,728.5 133.2,728.7 C130.2,728.6 127.5,727.1 125.7,724.9 C125.4,725.5 125.2,726.1 125.2,726.8 C125.2,728.1 125.9,729.2 126.8,729.8 C126.2,729.8 125.7,729.6 125.2,729.4 C125.2,731.2 126.4,732.6 128.1,733.0 C127.6,733.1 127.0,733.2 126.4,733.1 C126.9,734.5 128.2,735.6 129.8,735.6 C128.4,736.8 126.4,737.4 124.5,737.2 C126.1,738.2 128.0,738.8 130.0,738.8 C136.7,738.8 140.3,733.2 140.3,728.4 L140.3,727.9 C141.0,727.4 141.6,726.7 142.1,726.0 Z" fill="#ffffff"/>
<!-- dribbble -->
<rect x="405.0" y="713.8" width="33" height="33" rx="7" ry="7" fill="url(#drb)"/>
<g fill="none" stroke="#ffffff" stroke-width="1.5" stroke-linecap="round">
<circle cx="421.8" cy="730.5" r="8.7"/>
<path d="M416.6,723.6 C420.6,724.6 424.4,729.0 426.0,738.0"/>
<path d="M413.2,730.6 C418.8,731.2 425.0,729.8 428.4,724.9"/>
<path d="M417.2,737.8 C419.0,733.6 424.0,731.0 430.3,732.4"/>
</g>
</g>

<text x="29.60" y="100.6" font-family="Liberation Sans, sans-serif" font-size="10.3" font-weight="bold" fill="#111111" textLength="137.00" lengthAdjust="spacingAndGlyphs">KEMENTERIAN KEUANGAN</text>
<text x="52.30" y="112.7" font-family="Liberation Sans, sans-serif" font-size="8.6" fill="#1f1f1f" textLength="91.96" lengthAdjust="spacingAndGlyphs">REPUBLIK INDONESIA</text>
<text x="193.90" y="104.5" font-family="Liberation Sans, sans-serif" font-size="15.6" font-weight="bold" fill="url(#djt)" textLength="47.32" lengthAdjust="spacingAndGlyphs">DJPb</text>
<text x="198.00" y="112.2" font-family="Liberation Sans, sans-serif" font-size="4.9" font-weight="bold" fill="#333338" textLength="39.20" lengthAdjust="spacingAndGlyphs">Indonesian Treasury</text>
<text x="1062.00" y="86.1" font-family="Liberation Sans, sans-serif" font-size="10.6" font-weight="bold" fill="#111111" textLength="85.17" lengthAdjust="spacingAndGlyphs">WATAMPONE</text>
<text x="160.00" y="742.0" font-family="Liberation Sans, sans-serif" font-size="20.0" font-weight="bold" fill="#141414" textLength="185.60" lengthAdjust="spacingAndGlyphs">@kppnwatampone</text>
<text x="462.61" y="743.0" font-family="Liberation Sans, sans-serif" font-size="20.4" font-weight="bold" fill="#141414" textLength="275.35" lengthAdjust="spacingAndGlyphs">www.kppnwatampone.com</text>
</svg>
</body>
</html>
